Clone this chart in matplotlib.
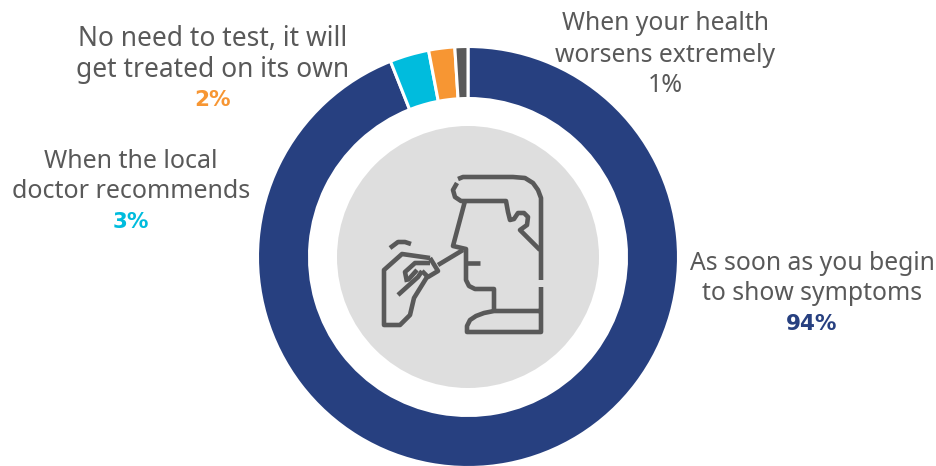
import matplotlib
matplotlib.use("Agg")
import matplotlib.pyplot as plt
from matplotlib.patches import Circle, PathPatch
from matplotlib.path import Path

H = 466
values = [94, 3, 2, 1]
colors = ["#274080", "#00BCDD", "#F79633", "#595959"]
answers = [["As soon as you begin", "to show symptoms"],
           ["When the local", "doctor recommends"],
           ["No need to test, it will", "get treated on its own"],
           ["When your health", "worsens extremely"]]
shares = ["94%", "3%", "2%", "1%"]
pct_weights = ["bold", "bold", "bold", "normal"]
label_x = [812, 131, 213, 665]
label_size = [17.8, 18, 19, 17.8]
line_y = [[263, 294], [161, 192], [39, 70], [24, 55]]
pct_y = [324, 222, 100, 86]

# outlines of the swab icon, in image pixels (y down)
icon_lines = [
    [(458, 179), (463, 177), (513, 177), (525, 178), (533, 183), (538, 190), (541, 198), (541, 280)],
    [(541, 287), (541, 332), (467, 332), (467, 326), (470, 320), (476, 316), (484, 313), (494, 311), (541, 311)],
    [(494, 311), (494, 289), (475, 289), (469, 286), (466, 280), (466, 249), (453, 246), (465, 201)],
    [(457, 183), (453, 190), (455, 197), (461, 201), (506, 201), (508, 212), (510, 220), (514, 219), (518, 213), (524, 213), (528, 217), (527, 225), (520, 230), (540, 250)],
    [(466, 263), (480, 263)],
    [(463, 250), (438, 265)],
    [(390, 248), (398, 242), (405, 242), (411, 244)],
    [(430, 258), (402, 254), (384, 270), (384, 325), (400, 325), (410, 315), (414, 298), (427, 277)],
    [(430, 258), (438, 271), (428, 277), (422, 271)],
    [(398, 295), (418, 277), (422, 271)],
    [(407, 282), (405, 272), (415, 263), (430, 263)],
    [(408, 280), (417, 270)],
]


def main():
    plt.rcParams['font.family'] = ['Noto Sans', 'DejaVu Sans']
    fig = plt.figure(figsize=(9.36, 4.66), dpi=100)
    ax = fig.add_axes([0, 0, 1, 1])

    ax.pie(values, colors=colors, startangle=90, counterclock=False,
           center=(468, H - 257), radius=210.5,
           wedgeprops=dict(width=52, edgecolor="white", linewidth=2.2))
    ax.add_patch(Circle((468, H - 257), 131, color="#DEDEDE", lw=0))

    for pts in icon_lines:
        pts = [(x, H - y) for x, y in pts]
        ax.add_patch(PathPatch(Path(pts), fill=False, edgecolor="#595959", lw=3.3,
                               capstyle="butt", joinstyle="round"))

    for i in range(len(values)):
        for txt, y in zip(answers[i], line_y[i]):
            ax.text(label_x[i], H - y, txt, ha="center", va="center",
                    fontsize=label_size[i], color="#595959")
        if pct_weights[i] == "bold":
            ax.text(label_x[i], H - pct_y[i], shares[i], ha="center", va="center",
                    fontsize=15.5, color=colors[i], fontweight="bold", family="DejaVu Sans")
        else:
            ax.text(label_x[i], H - pct_y[i], shares[i], ha="center", va="center",
                    fontsize=18, color="#595959")

    ax.set_xlim(0, 936)
    ax.set_ylim(0, H)
    ax.set_aspect("equal")
    ax.axis("off")
    fig.savefig("out.png", dpi=100)


if __name__ == '__main__':
    main()
